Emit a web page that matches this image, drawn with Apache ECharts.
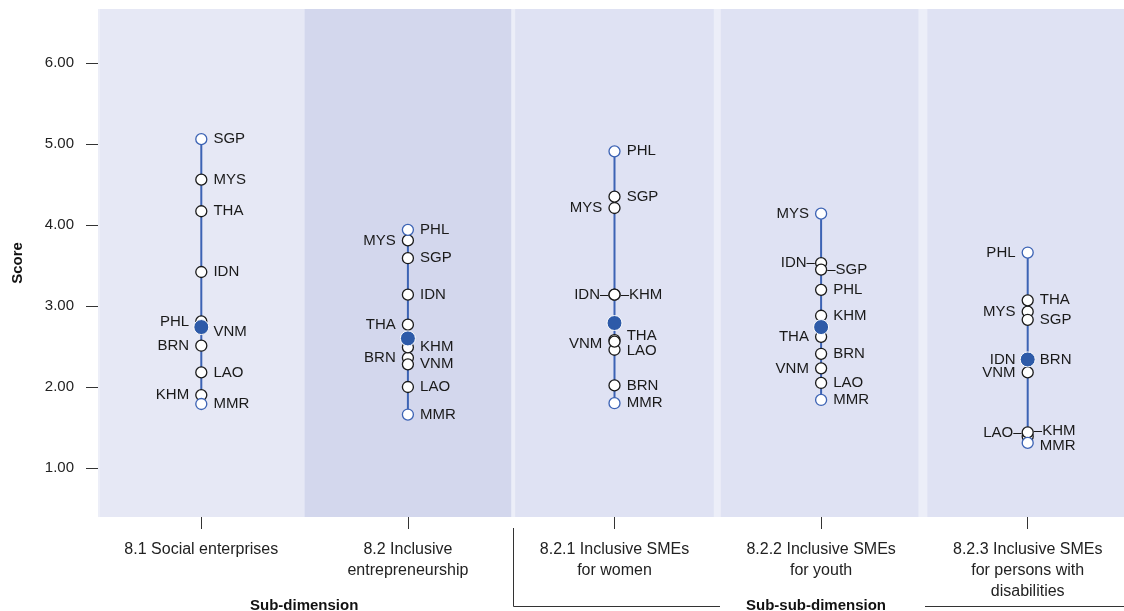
<!DOCTYPE html>
<html>
<head>
<meta charset="utf-8">
<script src="https://cdn.jsdelivr.net/npm/echarts@6/dist/echarts.min.js"></script>
<style>
html,body{margin:0;padding:0;background:#fff;}
#chart{width:1124px;height:611px;}
</style>
</head>
<body>
<div id="chart"></div>
<script>
// ---------- DATA ----------
const categories = [
  '8.1 Social enterprises',
  '8.2 Inclusive\nentrepreneurship',
  '8.2.1 Inclusive SMEs\nfor women',
  '8.2.2 Inclusive SMEs\nfor youth',
  '8.2.3 Inclusive SMEs\nfor persons with\ndisabilities'
];
const countries = ['BRN','KHM','IDN','LAO','MYS','MMR','PHL','SGP','THA','VNM'];
const BRN = [2.51, 2.36, 2.02, 2.41, 2.34];
const KHM = [1.90, 2.49, 3.14, 2.88, 1.39];
const IDN = [3.42, 3.14, 3.14, 3.53, 2.34];
const LAO = [2.18, 2.00, 2.46, 2.05, 1.44];
const MYS = [4.56, 3.81, 4.21, 4.14, 2.93];
const MMR = [1.79, 1.66, 1.80, 1.84, 1.31];
const PHL = [2.81, 3.94, 4.91, 3.20, 3.66];
const SGP = [5.06, 3.59, 4.35, 3.45, 2.83];
const THA = [4.17, 2.77, 2.58, 2.62, 3.07];
const VNM = [2.72, 2.28, 2.56, 2.23, 2.18];
const average = [2.74, 2.60, 2.79, 2.74, 2.34];
const yTicks = [1, 2, 3, 4, 5, 6];
const groupTitles = ['Sub-dimension', 'Sub-sub-dimension'];

// ---------- STYLE / LABEL PLACEMENT (not data) ----------
const valuesBy = {BRN, KHM, IDN, LAO, MYS, MMR, PHL, SGP, THA, VNM};
const labelCfg = [
  {SGP:'R',MYS:'R',THA:'R',IDN:'R',PHL:'L',VNM:'R',BRN:'L',LAO:'R',KHM:'L',MMR:'R'},
  {PHL:'R',MYS:'L',SGP:'R',IDN:'R',THA:'L',KHM:'R',BRN:'L',VNM:'R',LAO:'R',MMR:'R'},
  {PHL:'R',SGP:'R',MYS:'L',IDN:'Ll',KHM:'Rl',THA:'R',VNM:'L',LAO:'R',BRN:'R',MMR:'R'},
  {MYS:'L',IDN:'Ll',SGP:'Rl',PHL:'R',KHM:'R',THA:'L',BRN:'R',VNM:'L',LAO:'R',MMR:'R'},
  {PHL:'L',THA:'R',MYS:'L',SGP:'R',IDN:'L',BRN:'R',VNM:'L',LAO:'Ll',KHM:'Rl',MMR:'R'}
];
const labelDy = [
  {VNM:3},
  {},
  {THA:-4, LAO:1, VNM:2},
  {IDN:0},
  {KHM:-6, MMR:3}
];
const bandColors = ['#e6e8f5', '#d3d7ed', '#dfe2f3', '#dfe2f3', '#dfe2f3'];
const bandInset = [[2, 0], [0, 0], [4, 4], [3, 6], [3, 0]]; // px inset left/right per band
const lineBlue = '#3c63b4';
const fillBlue = '#2d5aa8';
const Y_MIN = 0.395, Y_MAX = 6.667;

// ---------- BUILD ----------
const bands = categories.map((c, i) => [i]);

const ranges = categories.map((c, i) => {
  const vals = countries.map(k => valuesBy[k][i]);
  return [i, Math.min(...vals), Math.max(...vals)];
});

const points = [];
categories.forEach((c, i) => {
  const vals = countries.map(k => valuesBy[k][i]);
  const mn = Math.min(...vals), mx = Math.max(...vals);
  countries.forEach(k => {
    const v = valuesBy[k][i];
    const cfg = labelCfg[i][k] || 'R';
    const left = cfg[0] === 'L';
    const leader = cfg.length > 1;
    const dy = labelDy[i][k] || 0;
    const isEnd = (v === mn || v === mx);
    points.push({
      name: k,
      value: [i, v],
      itemStyle: {borderColor: isEnd ? lineBlue : '#1a1a1a'},
      z: isEnd ? 4 : 3,
      label: {
        position: left ? 'left' : 'right',
        distance: leader ? 0 : 6,
        offset: [0, dy],
        formatter: leader ? (left ? k + '\u2013' : '\u2013' + k) : k
      }
    });
  });
});

const chart = echarts.init(document.getElementById('chart'), null, {renderer: 'canvas'});
const option = {
  animation: false,
  textStyle: {fontFamily: '"Liberation Sans", Arial, sans-serif'},
  grid: {
    left: 98, right: -7, top: 9, bottom: 94, show: true,
    backgroundColor: '#eceef8', borderWidth: 0,
    containLabel: false, outerBoundsMode: 'none'
  },
  xAxis: {
    type: 'category',
    data: categories,
    boundaryGap: true,
    axisLine: {show: false},
    axisTick: {show: true, alignWithLabel: true, length: 12, lineStyle: {color: '#333', width: 1}},
    axisLabel: {
      interval: 0, margin: 22, fontSize: 16, lineHeight: 21, color: '#222',
      fontFamily: '"Liberation Sans", Arial, sans-serif'
    },
    splitLine: {show: false}
  },
  yAxis: {
    type: 'value',
    min: Y_MIN, max: Y_MAX,
    name: 'Score',
    nameLocation: 'middle',
    nameGap: 73,
    nameTextStyle: {fontWeight: 'bold', fontSize: 15, color: '#111'},
    axisLine: {show: false},
    axisTick: {show: true, length: 12, customValues: yTicks, lineStyle: {color: '#333'}},
    axisLabel: {
      customValues: yTicks, margin: 24, fontSize: 15, color: '#222',
      formatter: v => v.toFixed(2)
    },
    splitLine: {show: false}
  },
  series: [
    {
      type: 'custom',
      z: 0,
      silent: true,
      data: bands,
      renderItem: function (params, api) {
        const i = api.value(0);
        const cs = params.coordSys;
        const c = api.coord([i, Y_MAX]);
        const w = api.size([1, 0])[0];
        const x0 = c[0] - w / 2 + bandInset[i][0];
        const x1 = c[0] + w / 2 - bandInset[i][1];
        return {
          type: 'rect',
          shape: {x: x0, y: cs.y, width: x1 - x0, height: cs.height},
          style: {fill: bandColors[i]}
        };
      }
    },
    {
      type: 'custom',
      z: 2,
      data: ranges,
      renderItem: function (params, api) {
        const p1 = api.coord([api.value(0), api.value(1)]);
        const p2 = api.coord([api.value(0), api.value(2)]);
        return {
          type: 'line',
          shape: {x1: p1[0], y1: p1[1], x2: p2[0], y2: p2[1]},
          style: {stroke: lineBlue, lineWidth: 2}
        };
      }
    },
    {
      type: 'scatter',
      z: 3,
      data: points,
      symbol: 'circle',
      symbolSize: 11,
      itemStyle: {color: '#fff', borderColor: '#1a1a1a', borderWidth: 1.3, opacity: 1},
      label: {show: true, fontSize: 15, color: '#1a1a1a', fontFamily: '"Liberation Sans", Arial, sans-serif'},
      emphasis: {disabled: true}
    },
    {
      type: 'scatter',
      z: 5,
      data: average.map((v, i) => [i, v]),
      symbol: 'circle',
      symbolSize: 15,
      itemStyle: {color: fillBlue, borderColor: '#fff', borderWidth: 1, opacity: 1},
      emphasis: {disabled: true}
    }
  ],
  graphic: [
    {type: 'polyline', shape: {points: [[513.5, 528], [513.5, 606.5], [720, 606.5]]}, style: {stroke: '#333', lineWidth: 1, fill: null}},
    {type: 'line', shape: {x1: 925, y1: 606.5, x2: 1124, y2: 606.5}, style: {stroke: '#333', lineWidth: 1}},
    {type: 'text', left: 307 - 57, top: 598, style: {text: groupTitles[0], font: 'bold 15px "Liberation Sans", Arial, sans-serif', fill: '#111'}},
    {type: 'text', left: 820 - 74, top: 598, style: {text: groupTitles[1], font: 'bold 15px "Liberation Sans", Arial, sans-serif', fill: '#111'}}
  ]
};
chart.setOption(option);
</script>
</body>
</html>
